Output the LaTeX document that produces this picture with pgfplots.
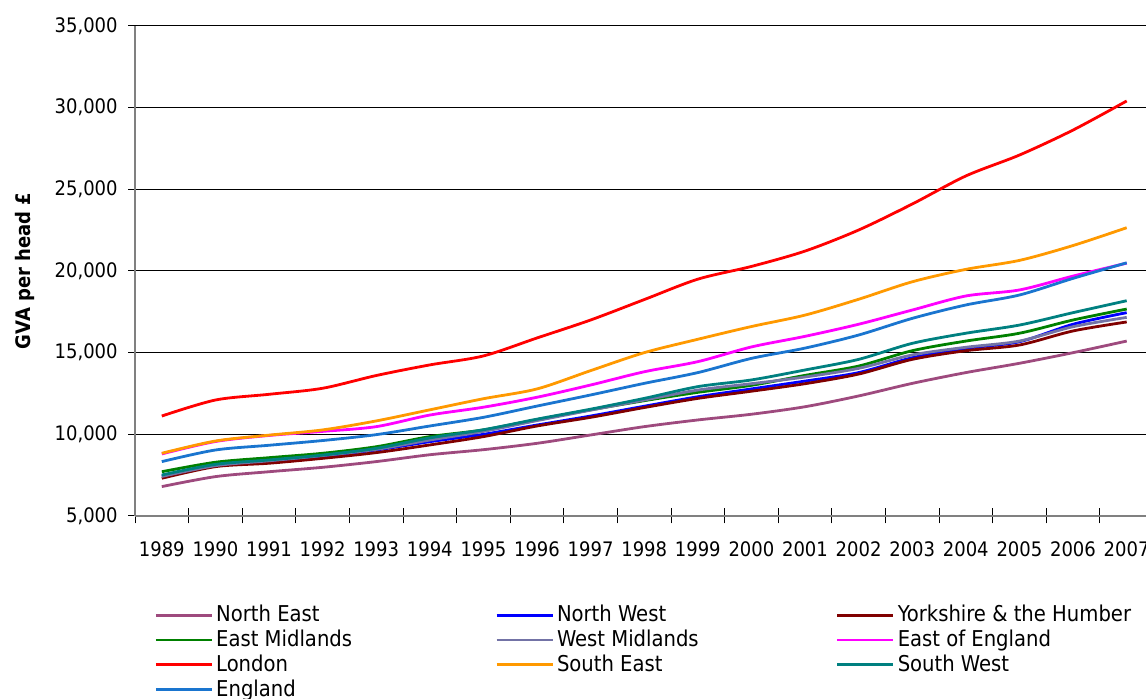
\documentclass[border=0pt]{standalone}
\usepackage{fontspec}
\setmainfont{DejaVu Sans Condensed}
\usepackage{pgfplots}
\usepackage{pgfplotstable}
\pgfplotsset{compat=1.18}

\definecolor{cNE}{HTML}{9E4A7E}
\definecolor{cNW}{HTML}{0000FF}
\definecolor{cYH}{HTML}{800000}
\definecolor{cEM}{HTML}{008000}
\definecolor{cWM}{HTML}{7373A6}
\definecolor{cEE}{HTML}{FF00FF}
\definecolor{cLO}{HTML}{FF0000}
\definecolor{cSE}{HTML}{FF9900}
\definecolor{cSW}{HTML}{008080}
\definecolor{cEN}{HTML}{1A75CF}
\definecolor{axgray}{HTML}{808080}

% GVA per head (GBP), by region
\pgfplotstableread{
year NE    NW    YH    EM    WM    EE    LO    SE    SW    EN
1989 6800  7450  7310  7710  7420  8800  11120 8840  7510  8330
1990 7410  8100  8020  8290  8080  9560  12100 9590  8160  9040
1991 7710  8370  8230  8570  8380  9930  12450 9950  8430  9330
1992 7980  8670  8530  8840  8700  10180 12820 10270 8730  9620
1993 8330  9040  8880  9240  9080  10470 13600 10820 9140  9980
1994 8750  9550  9350  9860  9650  11180 14250 11500 9780  10510
1995 9060  10000 9860  10270 10180 11660 14800 12180 10280 11040
1996 9450  10570 10510 10900 10840 12270 15900 12780 10930 11730
1997 9960  11120 11040 11500 11480 13020 17000 13900 11540 12410
1998 10470 11720 11640 12060 12100 13830 18250 15000 12200 13120
1999 10880 12300 12200 12570 12710 14450 19500 15820 12920 13780
2000 11230 12780 12640 13000 13100 15350 20280 16600 13330 14650
2001 11690 13260 13100 13610 13510 16000 21220 17300 13940 15280
2002 12350 13780 13690 14180 14040 16740 22510 18270 14590 16080
2003 13120 14690 14590 15120 14860 17610 24100 19340 15570 17100
2004 13780 15260 15120 15710 15330 18470 25820 20100 16190 17920
2005 14350 15670 15470 16190 15710 18840 27100 20650 16690 18530
2006 15000 16740 16330 17000 16590 19690 28630 21560 17450 19550
2007 15710 17450 16880 17670 17160 20480 30410 22650 18180 20500
}\gva

\newcommand{\lcell}[1]{\makebox[136pt][l]{#1}}

\begin{document}
\begin{tikzpicture}
\useasboundingbox (0,0) rectangle (573pt,349.5pt);
\begin{axis}[
  at={(67.5pt,91.5pt)}, anchor=south west,
  scale only axis, width=505.5pt, height=245pt,
  xmin=1988.5, xmax=2007.36,
  ymin=5000, ymax=35000,
  scaled y ticks=false,
  axis x line*=bottom, axis y line*=left,
  axis line style={axgray, line width=0.75pt, -},
  xtick={1989,...,2007},
  major x tick style={draw=none},
  minor xtick={1988.5,1989.5,...,2007.5},
  minor x tick style={black, line width=0.5pt},
  minor tick length=7.5pt,
  xtick align=center,
  ytick={5000,10000,...,35000},
  ytick align=outside,
  major tick length=3.5pt,
  major y tick style={black, line width=0.5pt},
  ymajorgrids,
  major grid style={black, line width=0.5pt},
  /pgf/number format/assume math mode=true,
  xticklabel style={/pgf/number format/1000 sep={}, anchor=center, yshift=-15pt,
    font=\fontsize{10}{12}\selectfont},
  yticklabel style={/pgf/number format/1000 sep={,}, anchor=east, inner sep=0pt, xshift=-5pt,
    font=\fontsize{10}{12}\selectfont},
  ylabel={GVA per head £},
  every axis y label/.style={at={(axis description cs:-0.1088,0.5)}, rotate=90, anchor=center,
    font=\fontsize{10}{12}\selectfont\bfseries},
  legend columns=3,
  legend style={at={(axis description cs:0,0)}, anchor=north west,
    xshift=9.5pt, yshift=-42.5pt, draw=none, fill=none, inner sep=0pt,
    font=\fontsize{10.9}{12}\selectfont,
    /tikz/every odd column/.append style={column sep=-0.5pt},
    /tikz/every even column/.append style={column sep=1.5pt},
    row sep=-1.4pt},
  legend cell align=left,
  legend image code/.code={\draw[#1, line width=1.4pt] (0pt,0pt) -- (28pt,0pt);},
  every axis plot/.append style={line width=1.4pt, smooth, tension=0.5, no markers},
  clip=false,
]
\addplot[cNE] table[x=year,y=NE]{\gva};
\addlegendentry{\lcell{North East}}
\addplot[cNW] table[x=year,y=NW]{\gva};
\addlegendentry{\lcell{North West}}
\addplot[cYH] table[x=year,y=YH]{\gva};
\addlegendentry{Yorkshire \& the Humber}
\addplot[cEM] table[x=year,y=EM]{\gva};
\addlegendentry{\lcell{East Midlands}}
\addplot[cWM] table[x=year,y=WM]{\gva};
\addlegendentry{\lcell{West Midlands}}
\addplot[cEE] table[x=year,y=EE]{\gva};
\addlegendentry{East of England}
\addplot[cLO] table[x=year,y=LO]{\gva};
\addlegendentry{\lcell{London}}
\addplot[cSE] table[x=year,y=SE]{\gva};
\addlegendentry{\lcell{South East}}
\addplot[cSW] table[x=year,y=SW]{\gva};
\addlegendentry{South West}
\addplot[cEN] table[x=year,y=EN]{\gva};
\addlegendentry{\lcell{England}}
\end{axis}
\end{tikzpicture}
\end{document}
